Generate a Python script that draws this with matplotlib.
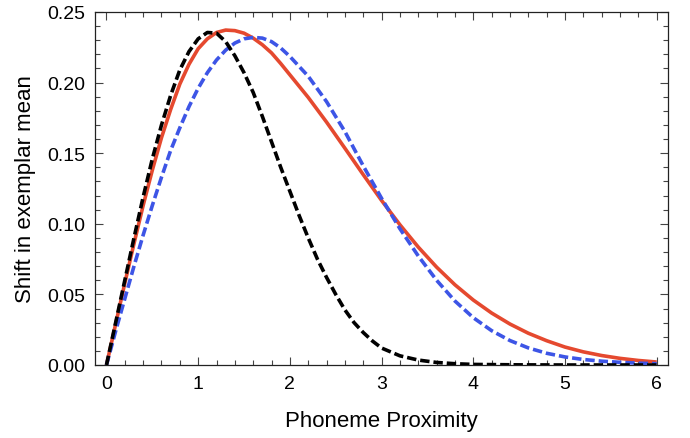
import matplotlib.pyplot as plt
from matplotlib.ticker import MultipleLocator

# values
x_black = [0.0, 0.1, 0.2, 0.3, 0.4, 0.5, 0.6, 0.7, 0.8, 0.9, 1.0, 1.1, 1.2, 1.3, 1.4,
           1.5, 1.6, 1.7, 1.8, 1.9, 2.0, 2.1, 2.2, 2.3, 2.4, 2.5, 2.6, 2.7, 2.8, 2.9,
           3.0, 3.2, 3.4, 3.6, 3.8, 4.0, 4.5, 5.0, 5.5, 6.0]
y_black = [0.0, 0.030, 0.060, 0.090, 0.119, 0.146, 0.170, 0.191, 0.209, 0.222, 0.231,
           0.2355, 0.235, 0.229, 0.219, 0.207, 0.193, 0.176, 0.158, 0.140, 0.123, 0.106,
           0.090, 0.075, 0.062, 0.050, 0.039, 0.030, 0.023, 0.017, 0.012, 0.0065, 0.0035,
           0.0018, 0.0009, 0.0004, 0.0001, 0.0, 0.0, 0.0]

x_red = [0.0, 0.1, 0.2, 0.3, 0.4, 0.5, 0.6, 0.7, 0.8, 0.9, 1.0, 1.1, 1.2, 1.3, 1.4,
         1.5, 1.6, 1.7, 1.8, 1.9, 2.0, 2.2, 2.4, 2.6, 2.8, 3.0, 3.2, 3.4, 3.6, 3.8,
         4.0, 4.2, 4.4, 4.6, 4.8, 5.0, 5.2, 5.4, 5.6, 5.8, 6.0]
y_red = [0.0, 0.029, 0.058, 0.086, 0.113, 0.138, 0.161, 0.181, 0.199, 0.213, 0.224,
         0.231, 0.2355, 0.2372, 0.2368, 0.235, 0.2315, 0.2268, 0.221, 0.2135, 0.2055,
         0.1895, 0.172, 0.1535, 0.1348, 0.1165, 0.0993, 0.0835, 0.0693, 0.0568, 0.046,
         0.0368, 0.029, 0.0225, 0.0172, 0.0127, 0.0093, 0.0067, 0.0047, 0.0032, 0.0021]

x_blue = [0.0, 0.1, 0.2, 0.3, 0.4, 0.5, 0.6, 0.7, 0.8, 0.9, 1.0, 1.1, 1.2, 1.3, 1.4,
          1.5, 1.6, 1.7, 1.8, 1.9, 2.0, 2.2, 2.4, 2.6, 2.8, 3.0, 3.2, 3.4, 3.6, 3.8,
          4.0, 4.2, 4.4, 4.6, 4.8, 5.0, 5.2, 5.4, 5.6, 5.8, 6.0]
y_blue = [0.0, 0.024, 0.047, 0.070, 0.092, 0.113, 0.133, 0.152, 0.168, 0.183, 0.196,
          0.207, 0.216, 0.223, 0.228, 0.231, 0.232, 0.2315, 0.229, 0.2245, 0.2185,
          0.2045, 0.1865, 0.1653, 0.141, 0.118, 0.0965, 0.0772, 0.060, 0.0453, 0.0335,
          0.0243, 0.0173, 0.0121, 0.0083, 0.0057, 0.0039, 0.0027, 0.0019, 0.0013, 0.0009]

RED = "#E5492F"
BLUE = "#3D55E6"

plt.rcParams["font.family"] = ["Liberation Sans", "DejaVu Sans"]

fig = plt.figure(figsize=(6.9, 4.39), dpi=100)
ax = fig.add_axes([0.1377, 0.1663, 0.830, 0.8041])

ax.plot(x_red, y_red, color=RED, linewidth=2.6, solid_capstyle="butt",
        solid_joinstyle="round", zorder=2)
ax.plot(x_blue, y_blue, color=BLUE, linewidth=2.6, linestyle=(0, (2.6, 1.1)), zorder=3)
ax.plot(x_black, y_black, color="black", linewidth=2.6, linestyle=(0, (2.6, 1.1)), zorder=4)

ax.set_xlim(-0.125, 6.12)
ax.set_ylim(0, 0.25)
ax.xaxis.set_major_locator(MultipleLocator(1))
ax.xaxis.set_minor_locator(MultipleLocator(0.2))
ax.yaxis.set_major_locator(MultipleLocator(0.05))
ax.yaxis.set_minor_locator(MultipleLocator(0.01))
ax.yaxis.set_major_formatter(plt.FormatStrFormatter("%.2f"))

ax.tick_params(which="both", direction="in", top=True, right=True, width=0.8, color="#444444")
ax.tick_params(which="major", length=6, labelsize=14, pad=7)
ax.tick_params(which="minor", length=3.5)
for spine in ax.spines.values():
    spine.set_linewidth(0.9)
    spine.set_color("#222222")

ax.set_xlabel("Phoneme Proximity", fontsize=16, labelpad=13)
ax.set_ylabel("Shift in exemplar mean", fontsize=16, labelpad=8)

fig.savefig("out.png", dpi=100)
